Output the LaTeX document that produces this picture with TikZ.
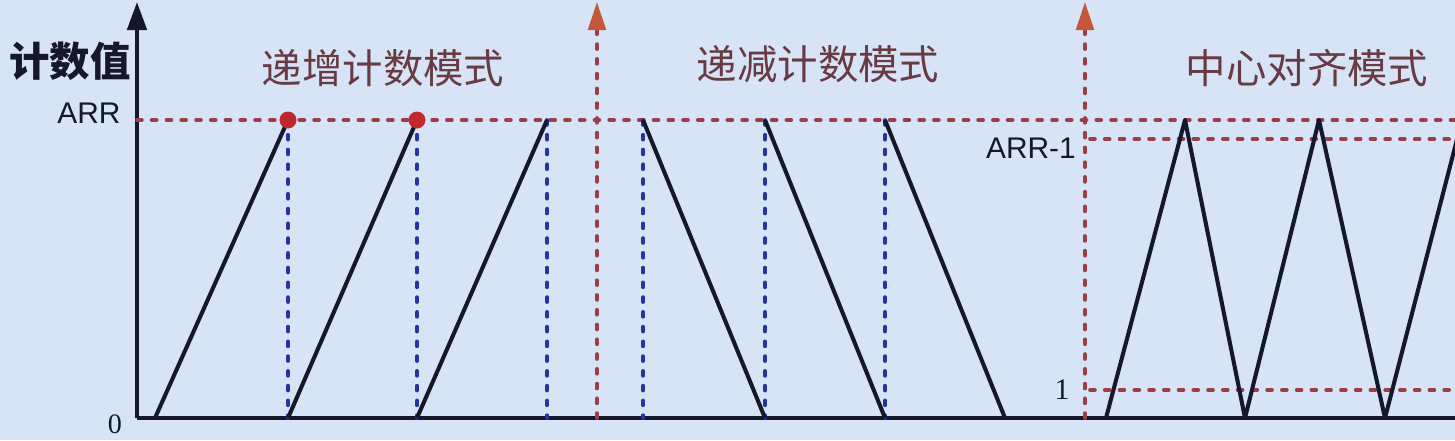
\documentclass[tikz,border=0pt]{standalone}
\usepackage{fontspec}
\setmainfont{Liberation Sans}
\newfontfamily\cjk{Noto Sans CJK SC}
\newfontfamily\numfont{Liberation Serif}
\usetikzlibrary{arrows.meta}
\definecolor{paleBlue}{HTML}{D6E4F6}
\definecolor{inkBlack}{HTML}{15182A}
\definecolor{limitRed}{HTML}{9A3E48}
\definecolor{markBlue}{HTML}{2434A0}
\definecolor{dotRed}{HTML}{C0282E}
\definecolor{tipOrange}{HTML}{C4583A}
\definecolor{titleBrown}{HTML}{6A3A42}

\begin{document}
\begin{tikzpicture}[x=0.02cm, y=-0.02cm,
  ramp/.style={inkBlack, line width=2.3pt, line join=round},
  limit/.style={limitRed, line width=2.1pt, line cap=round, dash pattern=on 2.8pt off 5.6pt},
  reload/.style={markBlue, line width=2.1pt, line cap=round, dash pattern=on 2.8pt off 5.6pt},
  modetitle/.style={titleBrown, font=\cjk\fontsize{23}{26}\selectfont},
  level/.style={inkBlack, font=\fontsize{17}{19}\selectfont},
  peakdot/.style={circle, fill=dotRed, inner sep=0pt, minimum size=0.34cm}]
  % background and page size
  \fill[paleBlue] (0,0) rectangle (1455,440);
  \useasboundingbox (0,0) rectangle (1455,440);

  % axes
  \coordinate (O) at (137,418);
  \coordinate (ytop) at (137,2);
  \coordinate (xend) at (1455,418);
  \draw[ramp, -{Triangle[width=11pt,length=16pt]}] (O) -- (ytop);
  \draw[ramp] (O) -- (xend);
  \node[font=\cjk\bfseries\fontsize{23}{26}\selectfont, inkBlack] (ylabel) at (70,61) {计数值};
  \node[level] (arrlabel) at (89,113) {ARR};
  \node[inkBlack, font=\numfont\fontsize{16}{18}\selectfont] (zero) at (115,424) {0};

  % ARR level
  \coordinate (arrL) at (137,120);
  \coordinate (arrR) at (1455,120);
  \draw[limit] (arrL) -- (arrR);

  % mode separators
  \coordinate (s1b) at (597,418);
  \coordinate (s1t) at (597,2);
  \coordinate (s2b) at (1085,418);
  \coordinate (s2t) at (1085,2);
  \draw[limit, -{Triangle[width=10pt,length=16pt,fill=tipOrange,color=tipOrange]}] (s1b) -- (s1t);
  \draw[limit, -{Triangle[width=10pt,length=16pt,fill=tipOrange,color=tipOrange]}] (s2b) -- (s2t);

  % up counting
  \node[modetitle] (uptitle) at (383,68) {递增计数模式};
  \coordinate (u0) at (155,418);
  \coordinate (u1) at (288,120);
  \coordinate (u1b) at (288,418);
  \coordinate (u2) at (417,120);
  \coordinate (u2b) at (417,418);
  \coordinate (u3) at (547,120);
  \coordinate (u3b) at (547,418);
  \draw[reload] (u1) -- (u1b);
  \draw[reload] (u2) -- (u2b);
  \draw[reload] (u3) -- (u3b);
  \draw[ramp] (u0) -- (u1);
  \draw[ramp] (u1b) -- (u2);
  \draw[ramp] (u2b) -- (u3);
  \node[peakdot] (dot1) at (u1) {};
  \node[peakdot] (dot2) at (u2) {};

  % down counting
  \node[modetitle] (downtitle) at (818,64) {递减计数模式};
  \coordinate (d0) at (643,120);
  \coordinate (d0b) at (643,418);
  \coordinate (d1t) at (765,120);
  \coordinate (d1) at (765,418);
  \coordinate (d2t) at (885,120);
  \coordinate (d2) at (885,418);
  \coordinate (d3) at (1005,418);
  \draw[reload] (d0) -- (d0b);
  \draw[reload] (d1t) -- (d1);
  \draw[reload] (d2t) -- (d2);
  \draw[ramp] (d0) -- (d1);
  \draw[ramp] (d1t) -- (d2);
  \draw[ramp] (d2t) -- (d3);

  % center aligned
  \node[modetitle] (centertitle) at (1307,68) {中心对齐模式};
  \coordinate (arrmL) at (1090,139);
  \coordinate (arrmR) at (1455,139);
  \coordinate (oneL) at (1090,390);
  \coordinate (oneR) at (1455,390);
  \draw[limit] (arrmL) -- (arrmR);
  \draw[limit] (oneL) -- (oneR);
  \node[level] (arrmlabel) at (1031,148) {ARR-1};
  \node[inkBlack, font=\numfont\fontsize{17}{19}\selectfont] (onelabel) at (1062,390) {1};
  \coordinate (c0) at (1106,418);
  \coordinate (c1) at (1185,120);
  \coordinate (c2) at (1245,418);
  \coordinate (c3) at (1319,120);
  \coordinate (c4) at (1385,418);
  \coordinate (c5) at (1462,120);
  \draw[ramp] (c0) -- (c1) -- (c2) -- (c3) -- (c4) -- (c5);
\end{tikzpicture}
\end{document}
